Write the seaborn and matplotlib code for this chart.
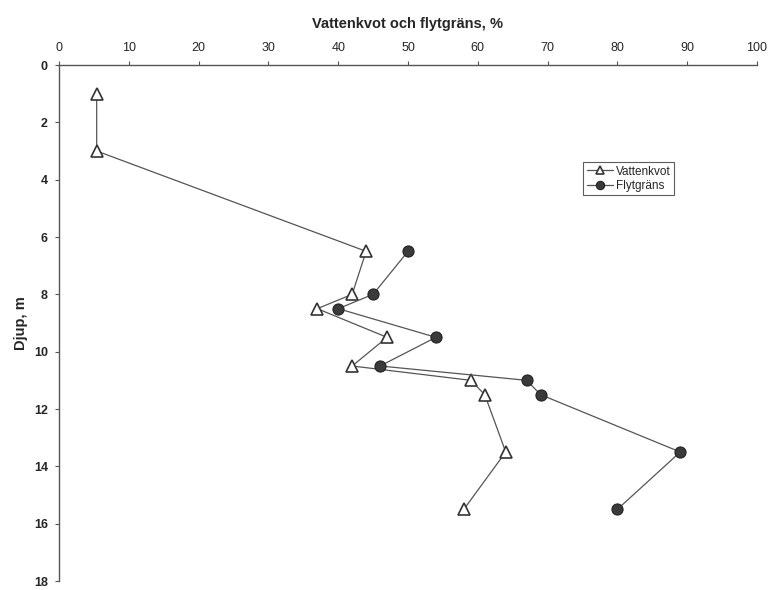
import matplotlib
matplotlib.use("Agg")
import matplotlib.pyplot as plt
import seaborn as sns
import pandas as pd

# Sounding data: depth (m) with water content and liquid limit (%)
vk_depth = [1, 3, 6.5, 8, 8.5, 9.5, 10.5, 11, 11.5, 13.5, 15.5]
vk_value = [5.4, 5.4, 44, 42, 37, 47, 42, 59, 61, 64, 58]
fg_depth = [6.5, 8, 8.5, 9.5, 10.5, 11, 11.5, 13.5, 15.5]
fg_value = [50, 45, 40, 54, 46, 67, 69, 89, 80]

x_ticks = list(range(0, 101, 10))
y_ticks = list(range(0, 19, 2))

sns.set_theme(style="white")
plt.rcParams["font.family"] = ["Liberation Sans", "DejaVu Sans"]

vk = pd.DataFrame({"Djup": vk_depth, "Värde": vk_value})
fg = pd.DataFrame({"Djup": fg_depth, "Värde": fg_value})

fig = plt.figure(figsize=(7.68, 5.90), dpi=100)
ax = fig.add_axes([59 / 768, 1 - 581 / 590, (757 - 59) / 768, (581 - 65) / 590])

line_col = "#555555"
sns.lineplot(data=vk, x="Värde", y="Djup", sort=False, estimator=None, ax=ax,
             color=line_col, linewidth=0.9, marker="^", markersize=8.5,
             markerfacecolor="white", markeredgecolor="#333333",
             markeredgewidth=1.2, label="Vattenkvot")
sns.lineplot(data=fg, x="Värde", y="Djup", sort=False, estimator=None, ax=ax,
             color=line_col, linewidth=0.9, marker="o", markersize=8,
             markerfacecolor="#3a3a3a", markeredgecolor="#222222",
             markeredgewidth=0.8, label="Flytgräns")

ax.set_xlim(0, 100)
ax.set_ylim(18, 0)
ax.set_xticks(x_ticks)
ax.set_yticks(y_ticks)
ax.xaxis.tick_top()
ax.xaxis.set_label_position("top")
ax.set_xlabel("Vattenkvot och flytgräns, %", fontsize=10.5, fontweight="bold", labelpad=10)
ax.set_ylabel("Djup, m", fontsize=10.5, fontweight="bold", labelpad=4)

for side in ("right", "bottom"):
    ax.spines[side].set_visible(False)
for side in ("left", "top"):
    ax.spines[side].set_color("#555555")
    ax.spines[side].set_linewidth(1.0)

ax.tick_params(axis="x", which="both", top=True, bottom=False, direction="out",
               length=3, width=0.8, color="#555555", labelsize=9, pad=5)
ax.tick_params(axis="y", which="both", left=True, direction="out",
               length=3, width=0.8, color="#555555", labelsize=9, pad=5)
for lab in ax.get_yticklabels():
    lab.set_fontweight("bold")

leg = ax.legend(loc="upper left", bbox_to_anchor=(583 / 768, 1 - 162 / 590),
                bbox_transform=fig.transFigure, fontsize=8.5, frameon=True,
                fancybox=False, handlelength=2.2, handletextpad=0.3,
                borderpad=0.3, labelspacing=0.2, borderaxespad=0,
                markerscale=0.75)
leg.get_frame().set_edgecolor("#333333")
leg.get_frame().set_linewidth(0.8)

fig.savefig("out.png", dpi=100)
